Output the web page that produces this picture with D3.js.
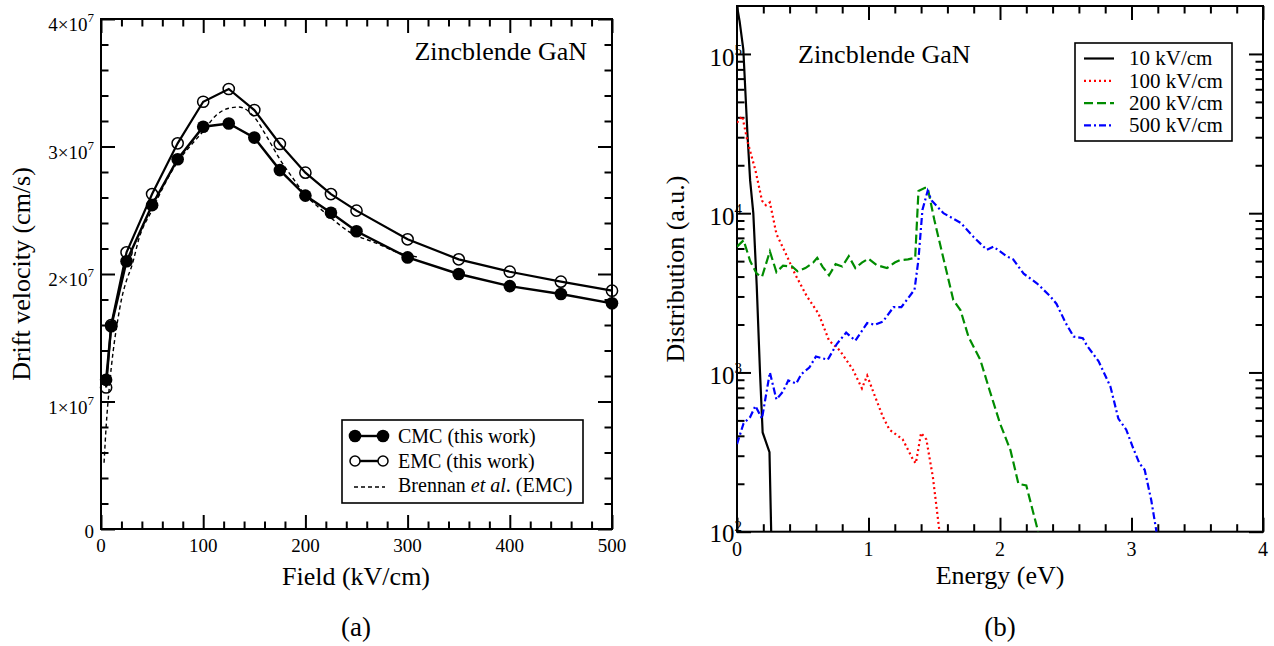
<!DOCTYPE html>
<html>
<head>
<meta charset="utf-8">
<script src="https://cdn.jsdelivr.net/npm/d3@7"></script>
<style>
  body { margin: 0; background: #fff; }
  svg text { font-family: "Liberation Serif", "Times New Roman", serif; fill: #000; }
</style>
</head>
<body>
<svg id="fig" width="1274" height="646"></svg>
<script>
// ---------- (a) drift velocity versus electric field ----------
const fieldCMC    = [5, 10, 25, 50, 75, 100, 125, 150, 175, 200, 225, 250, 300, 350, 400, 450, 500];
const velocityCMC = [1.17e7, 1.59e7, 2.10e7, 2.54e7, 2.90e7, 3.155e7, 3.18e7, 3.07e7, 2.815e7, 2.615e7,
                     2.48e7, 2.335e7, 2.13e7, 2.0e7, 1.905e7, 1.843e7, 1.77e7];
const fieldEMC    = [5, 10, 25, 50, 75, 100, 125, 150, 175, 200, 225, 250, 300, 350, 400, 450, 500];
const velocityEMC = [1.11e7, 1.60e7, 2.17e7, 2.627e7, 3.025e7, 3.351e7, 3.451e7, 3.286e7, 3.02e7, 2.795e7,
                     2.627e7, 2.497e7, 2.272e7, 2.115e7, 2.018e7, 1.94e7, 1.869e7];
const fieldBrennan    = [3, 5, 8, 12, 16, 20, 25, 30, 38, 50, 62, 75, 87, 100, 112, 125, 135, 142, 150,
                         162, 175, 187, 200, 212, 225, 243, 270, 290, 312];
const velocityBrennan = [0.52e7, 0.8e7, 1.1e7, 1.4e7, 1.62e7, 1.8e7, 1.95e7, 2.06e7, 2.3e7, 2.5e7, 2.7e7,
                         2.88e7, 3.0e7, 3.12e7, 3.24e7, 3.30e7, 3.31e7, 3.29e7, 3.23e7, 3.08e7, 2.9e7,
                         2.76e7, 2.62e7, 2.53e7, 2.44e7, 2.33e7, 2.24e7, 2.17e7, 2.13e7];
const fieldTicks      = [0, 100, 200, 300, 400, 500];
const fieldTickLabels = ["0", "100", "200", "300", "400", "500"];
const velocityTicks      = [0, 1e7, 2e7, 3e7, 4e7];
const velocityTickLabels = [["0", ""], ["1\u00d710", "7"], ["2\u00d710", "7"], ["3\u00d710", "7"], ["4\u00d710", "7"]];
const velocityLegend = ["CMC (this work)", "EMC (this work)"];

// ---------- (b) energy distribution at four fields ----------
const energy10 = [0, 0.02, 0.048, 0.079, 0.1, 0.124, 0.15, 0.175, 0.195, 0.247, 0.26];
const dist10   = [2.0e5, 1.6e5, 1.07e5, 3.2e4, 1.6e4, 1.0e4, 3.5e3, 1.0e3, 420, 316, 100];
const energy100 = [0, 0.04, 0.08, 0.14, 0.19, 0.22, 0.25, 0.3, 0.38, 0.44, 0.53, 0.62, 0.7, 0.78, 0.88,
                   0.95, 0.99, 1.04, 1.11, 1.16, 1.26, 1.34, 1.36, 1.4, 1.44, 1.49, 1.54];
const dist100   = [3.7e4, 4.07e4, 2.82e4, 1.86e4, 1.2e4, 1.12e4, 1.17e4, 7410, 5370, 4170, 3020, 2340, 1585,
                   1380, 1047, 794, 955, 741, 525, 437, 380, 282, 269, 417, 380, 219, 100];
const energy200 = [0, 0.05, 0.1, 0.15, 0.19, 0.25, 0.3, 0.35, 0.42, 0.46, 0.52, 0.58, 0.61, 0.65, 0.7,
                   0.75, 0.8, 0.85, 0.9, 0.95, 1.0, 1.06, 1.14, 1.2, 1.24, 1.3, 1.355, 1.38, 1.43, 1.45,
                   1.5, 1.56, 1.645, 1.7, 1.76, 1.85, 1.92, 2.0, 2.08, 2.14, 2.2, 2.29];
const dist200   = [6166, 6761, 5012, 4169, 3981, 5754, 4266, 4677, 4624, 4315, 4519, 4898, 5248, 4624, 4074,
                   4786, 4624, 5370, 4519, 4898, 5188, 4732, 4519, 4898, 5070, 5129, 5248, 13800, 14450, 14450,
                   9120, 5623, 2851, 2455, 1679, 1202, 776, 479, 324, 200, 195, 100];
const energy500 = [0, 0.05, 0.1, 0.14, 0.19, 0.25, 0.3, 0.35, 0.39, 0.45, 0.49, 0.55, 0.6, 0.69, 0.76,
                   0.83, 0.9, 0.99, 1.05, 1.11, 1.19, 1.25, 1.35, 1.38, 1.41, 1.45, 1.48, 1.57, 1.7, 1.8,
                   1.9, 1.95, 2.05, 2.1, 2.18, 2.28, 2.38, 2.43, 2.5, 2.56, 2.63, 2.66, 2.75, 2.84, 2.9,
                   2.96, 3.01, 3.06, 3.1, 3.15, 3.19];
const dist500   = [355, 479, 525, 617, 513, 1000, 676, 759, 891, 851, 977, 1072, 1259, 1202, 1514, 1778,
                   1585, 2042, 1995, 2089, 2570, 2570, 3311, 5129, 10470, 13800, 12020, 10000, 8710, 7080,
                   5888, 6166, 5370, 5129, 4169, 3631, 3020, 2692, 2042, 1679, 1641, 1479, 1175, 813, 513,
                   437, 339, 269, 245, 158, 100];
const energyTicks      = [0, 1, 2, 3, 4];
const energyTickLabels = ["0", "1", "2", "3", "4"];
const distTicks      = [1e2, 1e3, 1e4, 1e5];
const distTickLabels = [["10", "2"], ["10", "3"], ["10", "4"], ["10", "5"]];
const distLegend = ["10 kV/cm", "100 kV/cm", "200 kV/cm", "500 kV/cm"];

const svg = d3.select("#fig");

// Tick marks pointing into the frame on all four sides
function frameTicks(g, x, y, xMajor, xMinor, yMajor, yMinor) {
  const [x0, x1] = x.range(), [y0, y1] = y.range();
  const specs = [
    [d3.axisBottom(x), `translate(0,${y0})`, xMajor, xMinor],
    [d3.axisTop(x),    `translate(0,${y1})`, xMajor, xMinor],
    [d3.axisLeft(y),   `translate(${x0},0)`, yMajor, yMinor],
    [d3.axisRight(y),  `translate(${x1},0)`, yMajor, yMinor]
  ];
  specs.forEach(([axis, tr, major, minor]) => {
    [[minor, 7.5], [major, 14]].forEach(([vals, len]) => {
      const a = g.append("g").attr("transform", tr)
        .call(axis.tickValues(vals).tickSizeInner(-len).tickSizeOuter(0).tickFormat(""));
      a.select(".domain").remove();
      a.selectAll("line").attr("stroke", "#000").attr("stroke-width", 2);
    });
  });
  g.append("rect")
    .attr("x", x0).attr("y", y1).attr("width", x1 - x0).attr("height", y0 - y1)
    .attr("fill", "none").attr("stroke", "#000").attr("stroke-width", 2);
}

function supLabel(g, xPos, yPos, anchor, parts, size, supSize, rise) {
  const t = g.append("text").attr("x", xPos).attr("y", yPos)
    .attr("text-anchor", anchor).attr("font-size", size);
  t.append("tspan").text(parts[0]);
  if (parts[1]) t.append("tspan").attr("dy", -rise).attr("font-size", supSize).text(parts[1]);
  return t;
}

// ================= panel (a) =================
const ga = svg.append("g");
const xa = d3.scaleLinear().domain([0, 500]).range([101, 612]);
const ya = d3.scaleLinear().domain([0, 4e7]).range([529, 19]);

const fieldMinor = d3.range(0, 501, 20).filter(v => v % 100 !== 0);
const velMinor = d3.range(0, 4.01e7, 2e6).filter(v => Math.round(v / 1e6) % 10 !== 0);
frameTicks(ga, xa, ya, fieldTicks, fieldMinor, velocityTicks, velMinor);

const lineA = d3.line().x(d => xa(d[0])).y(d => ya(d[1]));
const brennan = d3.zip(fieldBrennan, velocityBrennan);
ga.append("path").datum(brennan)
  .attr("d", d3.line().x(d => xa(d[0])).y(d => ya(d[1])).curve(d3.curveMonotoneX))
  .attr("fill", "none").attr("stroke", "#000").attr("stroke-width", 1.4)
  .attr("stroke-dasharray", "4,3");

const cmc = d3.zip(fieldCMC, velocityCMC);
const emc = d3.zip(fieldEMC, velocityEMC);
ga.append("path").datum(emc).attr("d", lineA)
  .attr("fill", "none").attr("stroke", "#000").attr("stroke-width", 2.2);
ga.append("path").datum(cmc).attr("d", lineA)
  .attr("fill", "none").attr("stroke", "#000").attr("stroke-width", 2.4);
ga.selectAll("circle.cmc").data(cmc).join("circle").attr("class", "cmc")
  .attr("cx", d => xa(d[0])).attr("cy", d => ya(d[1])).attr("r", 6.3).attr("fill", "#000");
ga.selectAll("circle.emc").data(emc).join("circle").attr("class", "emc")
  .attr("cx", d => xa(d[0])).attr("cy", d => ya(d[1])).attr("r", 5.6)
  .attr("fill", "none").attr("stroke", "#000").attr("stroke-width", 1.5);

// tick labels
fieldTicks.forEach((v, i) => {
  ga.append("text").attr("x", xa(v)).attr("y", 552).attr("text-anchor", "middle")
    .attr("font-size", 19).text(fieldTickLabels[i]);
});
velocityTicks.forEach((v, i) => {
  const lab = velocityTickLabels[i];
  supLabel(ga, 94, ya(v) + (lab[1] ? 12 : 9), "end", lab, 19, 13, 9);
});

ga.append("text").attr("x", 356).attr("y", 585).attr("text-anchor", "middle")
  .attr("font-size", 26).text("Field (kV/cm)");
ga.append("text").attr("transform", `translate(30,274) rotate(-90)`).attr("text-anchor", "middle")
  .attr("font-size", 26).text("Drift velocity (cm/s)");
ga.append("text").attr("x", 587).attr("y", 60).attr("text-anchor", "end")
  .attr("font-size", 26).text("Zincblende GaN");
ga.append("text").attr("x", 356).attr("y", 636).attr("text-anchor", "middle")
  .attr("font-size", 27).text("(a)");

// legend (a)
const lgA = ga.append("g");
lgA.append("rect").attr("x", 342).attr("y", 420).attr("width", 241).attr("height", 83)
  .attr("fill", "#fff").attr("stroke", "#000").attr("stroke-width", 1.6);
[[436, true], [461, false]].forEach(([yy, filled], i) => {
  lgA.append("line").attr("x1", 355).attr("x2", 383).attr("y1", yy).attr("y2", yy)
    .attr("stroke", "#000").attr("stroke-width", 2.4);
  [355, 383].forEach(cx => {
    const c = lgA.append("circle").attr("cx", cx).attr("cy", yy);
    if (filled) c.attr("r", 6.3).attr("fill", "#000");
    else c.attr("r", 5).attr("fill", "#fff").attr("stroke", "#000").attr("stroke-width", 1.5);
  });
  lgA.append("text").attr("x", 398).attr("y", yy + 6.5).attr("font-size", 20).text(velocityLegend[i]);
});
lgA.append("line").attr("x1", 354).attr("x2", 385).attr("y1", 487).attr("y2", 487)
  .attr("stroke", "#000").attr("stroke-width", 1.4).attr("stroke-dasharray", "4,3");
const bt = lgA.append("text").attr("x", 398).attr("y", 492).attr("font-size", 20);
bt.append("tspan").text("Brennan ");
bt.append("tspan").attr("font-style", "italic").text("et al");
bt.append("tspan").text(". (EMC)");

// ================= panel (b) =================
const gb = svg.append("g");
const xb = d3.scaleLinear().domain([0, 4]).range([737, 1263]);
const yb = d3.scaleLog().domain([100, 2e5]).range([531.7, 6]);

const energyMinor = d3.range(0, 4.001, 0.2).filter(v => Math.abs(v - Math.round(v)) > 1e-6);
const distMinor = [];
[100, 1000, 10000].forEach(dec => { for (let k = 2; k <= 9; k++) distMinor.push(k * dec); });
frameTicks(gb, xb, yb, energyTicks, energyMinor, distTicks, distMinor);

gb.append("clipPath").attr("id", "clipB").append("rect")
  .attr("x", 737).attr("y", 6).attr("width", 526).attr("height", 525.7);

const lineB = d3.line().x(d => xb(d[0])).y(d => yb(d[1]));
const seriesB = [
  { e: energy10,  v: dist10,  color: "#000000", dash: null,      width: 2.2 },
  { e: energy100, v: dist100, color: "#ff0000", dash: "2,3",     width: 2.2 },
  { e: energy200, v: dist200, color: "#008c00", dash: "9,4",     width: 2.2 },
  { e: energy500, v: dist500, color: "#0000ff", dash: "7,3,2,3", width: 2.2 }
];
seriesB.forEach(s => {
  gb.append("path").datum(d3.zip(s.e, s.v)).attr("d", lineB)
    .attr("clip-path", "url(#clipB)")
    .attr("fill", "none").attr("stroke", s.color).attr("stroke-width", s.width)
    .attr("stroke-dasharray", s.dash);
});

energyTicks.forEach((v, i) => {
  gb.append("text").attr("x", xb(v)).attr("y", 556).attr("text-anchor", "middle")
    .attr("font-size", 20).text(energyTickLabels[i]);
});
distTicks.forEach((v, i) => {
  supLabel(gb, 742, yb(v) + (i === 0 ? 10 : 12), "end", distTickLabels[i], 25, 15, 11);
});

gb.append("text").attr("x", 1000).attr("y", 584).attr("text-anchor", "middle")
  .attr("font-size", 26).text("Energy (eV)");
gb.append("text").attr("transform", `translate(684,269) rotate(-90)`).attr("text-anchor", "middle")
  .attr("font-size", 26).text("Distribution (a.u.)");
gb.append("text").attr("x", 798).attr("y", 63).attr("font-size", 26).text("Zincblende GaN");
gb.append("text").attr("x", 1000).attr("y", 636).attr("text-anchor", "middle")
  .attr("font-size", 27).text("(b)");

// legend (b)
const lgB = gb.append("g");
lgB.append("rect").attr("x", 1075).attr("y", 43).attr("width", 157).attr("height", 98)
  .attr("fill", "#fff").attr("stroke", "#000").attr("stroke-width", 1.6);
seriesB.forEach((s, i) => {
  const yy = 58.5 + i * 22.3;
  lgB.append("line").attr("x1", 1084).attr("x2", 1114).attr("y1", yy).attr("y2", yy)
    .attr("stroke", s.color).attr("stroke-width", s.width).attr("stroke-dasharray", s.dash);
  lgB.append("text").attr("x", 1129).attr("y", yy + 6.8).attr("font-size", 21).text(distLegend[i]);
});
</script>
</body>
</html>
